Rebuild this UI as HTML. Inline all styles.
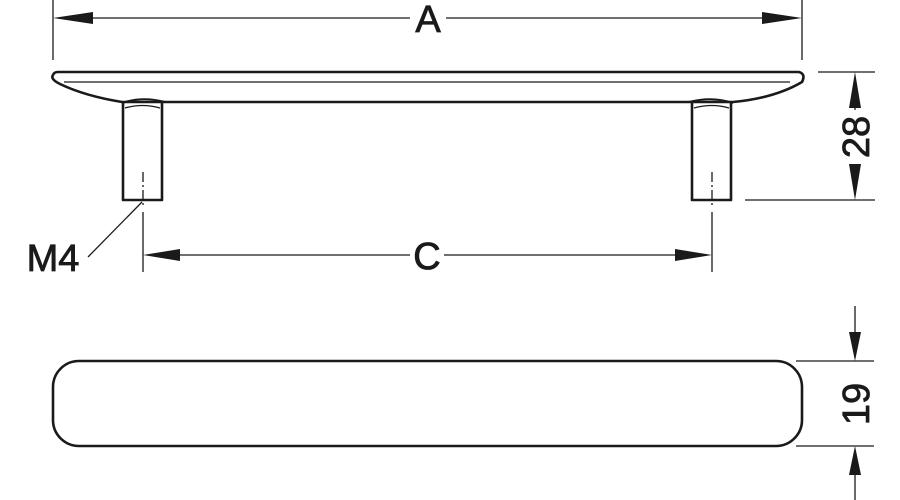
<!DOCTYPE html>
<html><head><style>body{margin:0;background:#fff}svg{display:block}</style></head>
<body>
<svg width="900" height="500" viewBox="0 0 900 500" xmlns="http://www.w3.org/2000/svg" font-family="Liberation Sans, Arial, sans-serif">
<g stroke="#1a1a1a" fill="none" stroke-width="1.3">
<line x1="53" y1="0" x2="53" y2="60"/>
<line x1="802" y1="0" x2="802" y2="60"/>
<line x1="60" y1="18" x2="410" y2="18"/>
<line x1="446" y1="18" x2="795" y2="18"/>
<line x1="143" y1="212" x2="143" y2="272"/>
<line x1="712" y1="212" x2="712" y2="272"/>
<line x1="150" y1="255" x2="410" y2="255"/>
<line x1="444" y1="255" x2="705" y2="255"/>
<line x1="88" y1="257" x2="142" y2="202"/>
<line x1="818" y1="72" x2="875" y2="72"/>
<line x1="745" y1="200" x2="875" y2="200"/>
<line x1="855" y1="78" x2="855" y2="110"/>
<line x1="855" y1="164" x2="855" y2="195"/>
<line x1="796" y1="361" x2="874" y2="361"/>
<line x1="796" y1="446" x2="874" y2="446"/>
<line x1="855" y1="306" x2="855" y2="340"/>
<line x1="855" y1="467" x2="855" y2="500"/>
<line x1="143" y1="172" x2="143" y2="208" stroke-dasharray="10,3,2,3"/>
<line x1="712" y1="172" x2="712" y2="208" stroke-dasharray="10,3,2,3"/>
</g>
<g fill="#1a1a1a">
<polygon points="53,18 93,12 93,24"/>
<polygon points="802,18 762,12 762,24"/>
<polygon points="143,255 180,249 180,261"/>
<polygon points="712,255 675,249 675,261"/>
<polygon points="855,72 849,108 861,108"/>
<polygon points="855,200 849,164 861,164"/>
<polygon points="855,361 849,332 861,332"/>
<polygon points="855,446 849,475 861,475"/>
</g>
<g stroke="#1a1a1a" fill="none" stroke-width="2.6" stroke-linejoin="round">
<path d="M58,72 L799,72 Q806,74 802,82 Q775,98 733,102 L688,102 L165,102 L122,102 Q85,96 60,84 Q50,79 53,75 Q54,72 58,72 Z"/>
<path d="M123,103 L123,200 L162,200 L162,103"/>
<path d="M692,103 L692,200 L731,200 L731,103"/>
<path d="M122,103 Q142,96 165,102" stroke-width="2"/>
<path d="M689,102 Q712,96 733,103" stroke-width="2"/>
<rect x="53" y="361" width="749" height="85" rx="26" ry="26"/>
</g>
<g stroke="#1a1a1a" stroke-width="1.3" fill="none">
<line x1="64" y1="82" x2="790" y2="82"/>
<path d="M125,108 Q142,103 160,108"/>
<path d="M694,108 Q712,103 729,108"/>
</g>
<g fill="#1a1a1a" stroke="#1a1a1a" stroke-width="0.8" font-size="38">
<text x="428" y="32" text-anchor="middle">A</text>
<text x="427" y="269" text-anchor="middle">C</text>
<text x="53" y="271" text-anchor="middle">M4</text>
<text transform="translate(869,137) rotate(-90)" text-anchor="middle">28</text>
<text transform="translate(869,404) rotate(-90)" text-anchor="middle">19</text>
</g>
</svg>
</body></html>
